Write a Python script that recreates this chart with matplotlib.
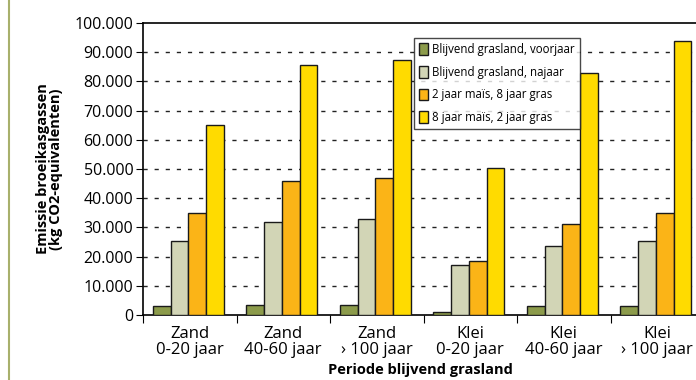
import numpy as np
import matplotlib.pyplot as plt
from matplotlib.lines import Line2D

plt.rcParams['font.family'] = ['Open Sans', 'DejaVu Sans']

groepen = ['Zand\n0-20 jaar', 'Zand\n40-60 jaar', 'Zand\n› 100 jaar',
           'Klei\n0-20 jaar', 'Klei\n40-60 jaar', 'Klei\n› 100 jaar']
series = ['Blijvend grasland, voorjaar', 'Blijvend grasland, najaar',
          '2 jaar maïs, 8 jaar gras', '8 jaar maïs, 2 jaar gras']
voorjaar = [3000, 3500, 3500, 1000, 3000, 3000]
najaar = [25500, 32000, 33000, 17000, 23500, 25500]
mais_2 = [35000, 46000, 47000, 18500, 31000, 35000]
mais_8 = [65000, 85500, 87500, 50500, 83000, 94000]
kleuren = ['#8c9b4b', '#d2d5b6', '#fbb417', '#ffdb00']

fig = plt.figure(figsize=(6.96, 3.8), dpi=100)
ax = fig.add_axes([143 / 696, 65 / 380, 561 / 696, 292 / 380])

x = np.arange(len(groepen))
breedte = 0.19
for i, (waarden, kleur, naam) in enumerate(zip([voorjaar, najaar, mais_2, mais_8], kleuren, series)):
    ax.bar(x - 0.3 + i * breedte, waarden, breedte, color=kleur, edgecolor='#1a1a1a',
           linewidth=1.0, label=naam, zorder=3)

ax.set_xlim(-0.5, len(groepen) - 0.5)
ax.set_ylim(0, 100000)
ax.set_yticks(range(0, 100001, 10000))
ax.set_yticklabels([f'{v:,}'.replace(',', '.') for v in range(0, 100001, 10000)], fontsize=11.5)
ax.set_xticks(np.arange(-0.5, len(groepen), 1.0))
ax.set_xticklabels([])
ax.set_xticks(x, minor=True)
ax.set_xticklabels(groepen, minor=True, fontsize=12, linespacing=0.95)
ax.tick_params(axis='x', which='minor', length=0, pad=8)
ax.tick_params(axis='x', which='major', length=6, direction='out')
ax.tick_params(axis='y', length=5, direction='out', pad=2)

for y in range(10000, 100000, 10000):
    ax.axhline(y, color='#222222', linestyle=(0, (3, 5)), linewidth=1.0, zorder=1)

for kant in ['left', 'bottom', 'top']:
    ax.spines[kant].set_linewidth(1.2)
ax.spines['right'].set_visible(False)

ax.set_ylabel('Emissie broeikasgassen\n(kg CO2-equivalenten)', fontsize=10.5,
              fontweight='bold', linespacing=0.95, labelpad=8)
ax.set_xlabel('Periode blijvend grasland', fontsize=10.5, fontweight='bold')
ax.xaxis.set_label_coords(0.495, -0.163)

leg = ax.legend(loc='upper left', bbox_to_anchor=(0.483, 0.95), fontsize=8.3, frameon=True,
                fancybox=False, edgecolor='#1a1a1a', borderpad=0.45, labelspacing=0.85,
                handlelength=0.8, handleheight=1.2, handletextpad=0.3, borderaxespad=0)
leg.get_frame().set_linewidth(1.0)
leg.set_zorder(5)

fig.add_artist(Line2D([9 / 696, 9 / 696], [0, 1], color='#a8b06c', linewidth=1.5))

fig.savefig('out.png', dpi=100)
